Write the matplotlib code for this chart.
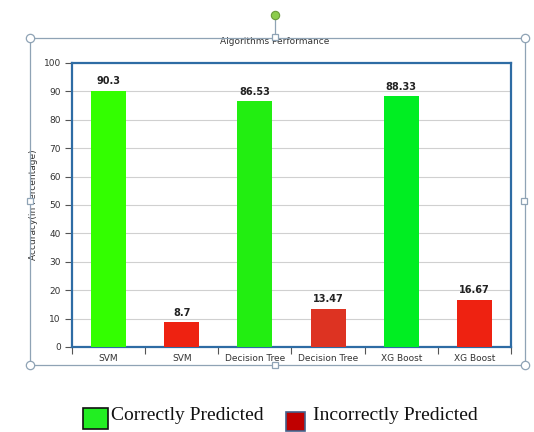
import matplotlib
matplotlib.use("Agg")
import matplotlib.pyplot as plt
from matplotlib.patches import Rectangle
from matplotlib.lines import Line2D
import numpy as np

categories = ["SVM", "SVM", "Decision Tree", "Decision Tree", "XG Boost", "XG Boost"]
values = [90.3, 8.7, 86.53, 13.47, 88.33, 16.67]
labels = ["90.3", "8.7", "86.53", "13.47", "88.33", "16.67"]
bar_colors = ["#33ff00", "#ee2211", "#22ee11", "#dd3322", "#00ee22", "#ee2211"]
yticks = [0, 10, 20, 30, 40, 50, 60, 70, 80, 90, 100]
legend_labels = ["Correctly Predicted", "Incorrectly Predicted"]

W, H = 534, 432
fig = plt.figure(figsize=(W / 100, H / 100), dpi=100)
fig.patch.set_facecolor("white")

ax = fig.add_axes([72 / W, 1 - 347 / H, (511 - 72) / W, (347 - 63) / H])
x = np.arange(len(categories))
ax.bar(x, values, width=0.48, color=bar_colors, zorder=3)
for xi, v, lab in zip(x, values, labels):
    ax.text(xi, v + 1.5, lab, ha="center", va="bottom", fontsize=7,
            fontweight="bold", color="#222222", zorder=4)

ax.set_xlim(-0.5, len(categories) - 0.5)
ax.set_ylim(0, 100)
ax.set_yticks(yticks)
ax.set_yticklabels([str(t) for t in yticks], fontsize=6.5, color="#333333")
ax.yaxis.grid(True, color="#d0d0d0", linewidth=0.8, zorder=0)
ax.tick_params(axis="y", length=5, width=0.8, color="#555555", pad=3)

# category labels centred, ticks at category boundaries
ax.set_xticks(x)
ax.set_xticklabels(categories, fontsize=6.5, color="#333333")
ax.tick_params(axis="x", length=0, pad=5)
ax.set_xticks(np.arange(len(categories) + 1) - 0.5, minor=True)
ax.tick_params(axis="x", which="minor", length=5, width=0.8, color="#555555")

for s in ax.spines.values():
    s.set_color("#2e6ca4")
    s.set_linewidth(1.6)

ax.set_ylabel("Accuracy(in Percentage)", fontsize=6.5, color="#333333", labelpad=4)
fig.text(275 / W, 1 - 42 / H, "Algorithms Performance", ha="center", va="center",
         fontsize=6.5, color="#333333")

# selection frame around the chart
def fx(px):
    return px / W

def fy(py):
    return 1 - py / H

frame_col = "#8fa3b5"
fig.add_artist(Rectangle((fx(30), fy(365)), fx(525) - fx(30), fy(38) - fy(365),
                         transform=fig.transFigure, fill=False,
                         edgecolor=frame_col, linewidth=0.9, zorder=10))
for px, py in [(30, 38), (525, 38), (30, 365), (525, 365)]:
    fig.add_artist(Line2D([fx(px)], [fy(py)], marker="o", markersize=6,
                          markerfacecolor="white", markeredgecolor=frame_col,
                          markeredgewidth=0.9, transform=fig.transFigure, zorder=11))
for px, py in [(275, 37), (275, 365), (30, 201), (524, 201)]:
    fig.add_artist(Line2D([fx(px)], [fy(py)], marker="s", markersize=4,
                          markerfacecolor="white", markeredgecolor=frame_col,
                          markeredgewidth=0.9, transform=fig.transFigure, zorder=11))
fig.add_artist(Line2D([fx(275), fx(275)], [fy(17), fy(35)], color=frame_col,
                      linewidth=0.9, transform=fig.transFigure, zorder=10))
fig.add_artist(Line2D([fx(275)], [fy(15)], marker="o", markersize=6,
                      markerfacecolor="#8ccc4c", markeredgecolor="#6a9a3a",
                      markeredgewidth=0.8, transform=fig.transFigure, zorder=11))

# legend boxes
fig.add_artist(Rectangle((fx(83), fy(429)), fx(108) - fx(83), fy(408) - fy(429),
                         transform=fig.transFigure, facecolor="#22ee22",
                         edgecolor="#111111", linewidth=1.2))
fig.text(fx(111), fy(415), legend_labels[0], ha="left", va="center",
         fontsize=14, family="Liberation Serif", color="#111111")
fig.add_artist(Rectangle((fx(286), fy(431)), fx(305) - fx(286), fy(412) - fy(431),
                         transform=fig.transFigure, facecolor="#c00000",
                         edgecolor="#44608a", linewidth=1.2))
fig.text(fx(313), fy(415), legend_labels[1], ha="left", va="center",
         fontsize=14, family="Liberation Serif", color="#111111")

fig.savefig("out.png", dpi=100)
